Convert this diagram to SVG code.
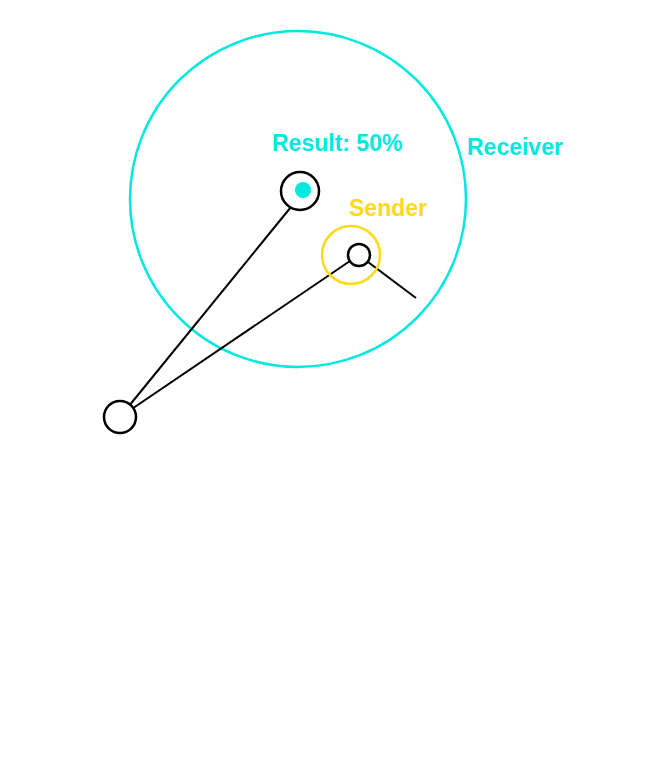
<svg xmlns="http://www.w3.org/2000/svg" width="658" height="768" viewBox="0 0 658 768">
<style>
.t{font-family:"Liberation Sans",Arial,sans-serif;font-weight:bold;font-size:23px}
.n{fill:#fff;stroke:#000;stroke-width:2.5}
.c line{stroke:#000;stroke-width:2}
</style>
<rect width="658" height="768" fill="#fff"/>
<g id="receiver"><circle cx="298" cy="199" r="168" fill="none" stroke="#00E8E0" stroke-width="2.5"/>
<text class="t" x="467" y="155" fill="#00E8E0">Receiver</text></g>
<g class="c" id="connectors">
<line x1="120" y1="417" x2="291" y2="207"/>
<line x1="120" y1="417" x2="350" y2="261"/>
<line x1="368" y1="262" x2="416" y2="298"/>
</g>
<g id="result"><circle class="n" cx="300" cy="191" r="19"/><circle cx="303" cy="190" r="8" fill="#00E8E0"/>
<text class="t" x="272" y="151" fill="#00E8E0">Result: 50%</text></g>
<g id="sender"><circle cx="351" cy="255" r="29" fill="none" stroke="#FFD91A" stroke-width="2.5"/><circle class="n" cx="359" cy="255" r="11"/>
<text class="t" x="349" y="216" fill="#FFD91A">Sender</text></g>
<g id="origin"><circle class="n" cx="120" cy="417" r="16"/></g>
</svg>
